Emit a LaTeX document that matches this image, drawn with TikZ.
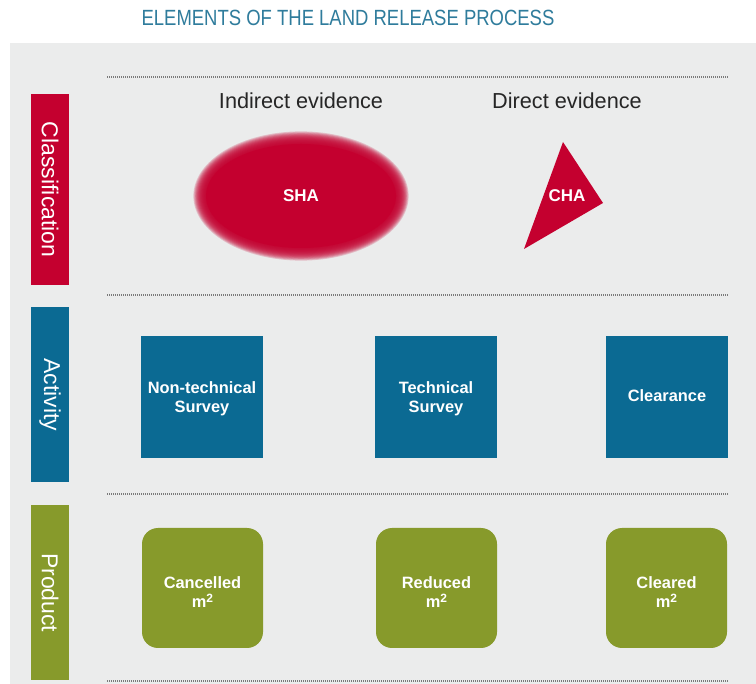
\documentclass[tikz,border=0pt]{standalone}
\usepackage{fontspec}
\setmainfont{Liberation Sans}
\newfontfamily\condfont[FakeStretch=0.84]{Liberation Sans}
\usetikzlibrary{shapes.geometric}
\definecolor{panel}{HTML}{EBECEC}
\definecolor{cred}{HTML}{C4002F}
\definecolor{cblue}{HTML}{0B6A93}
\definecolor{cgreen}{HTML}{879A2B}
\definecolor{ctitle}{HTML}{2F7C9C}
\definecolor{dotc}{HTML}{7A7A7A}
\newcommand{\msq}{m{\fontsize{12}{12}\selectfont\raisebox{0.4em}{2}}}
\tikzset{
  sidebar/.style={minimum width=38pt, inner sep=0pt, text=white, font=\fontsize{23}{23}\selectfont, anchor=north},
  actbox/.style={fill=cblue, minimum width=122pt, minimum height=122pt, inner sep=0pt},
  prodbox/.style={fill=cgreen, rounded corners=16pt, minimum width=121pt, minimum height=120pt, inner sep=0pt},
  boxtext/.style={text=white, align=center, font=\bfseries\fontsize{16.4}{18.5}\selectfont},
  sep/.style={dotc, line width=2pt, dash pattern=on 0.8pt off 1.2pt},
  evid/.style={font=\fontsize{21.7}{22}\selectfont, text=black!85},
  redlbl/.style={text=white, font=\bfseries\fontsize{17}{17}\selectfont}
}
\begin{document}
\begin{tikzpicture}[x=1pt,y=-1pt]
\useasboundingbox (0,0) rectangle (756,684);
\fill[white] (0,0) rectangle (756,684);
\fill[panel] (10,43) rectangle (756,684);
\node[font=\condfont\fontsize{22}{22}\selectfont, text=ctitle] (title) at (348,18) {ELEMENTS OF THE LAND RELEASE PROCESS};
% separators
\foreach \yy in {77,295,494,681} \draw[sep] (107,\yy) -- (728,\yy);
% side bars
\node[sidebar, fill=cred, minimum height=191pt] (cls) at (50,94) {\rotatebox{-90}{Classification}};
\node[sidebar, fill=cblue, minimum height=175pt] (act) at (50,307) {\rotatebox{-90}{Activity}};
\node[sidebar, fill=cgreen, minimum height=175pt] (prd) at (50,505) {\rotatebox{-90}{Product}};
% evidence
\node[evid] (ind) at (301,101) {Indirect evidence};
\node[evid] (dir) at (567,101) {Direct evidence};
% SHA blurred ellipse
\foreach \i in {0,...,14}
  \fill[cred, opacity=0.2] (301,196) ellipse ({95+(14-\i)*0.9} and {52+(14-\i)*0.9});
\fill[cred] (301,196) ellipse (95 and 52);
\node[redlbl] (sha) at (301,196) {SHA};
% CHA triangle
\fill[cred] (563,142) -- (603,203) -- (524,249) -- cycle;
\node[redlbl] (cha) at (567,196) {CHA};
% activity boxes
\node[actbox] (nts) at (202,397) {};
\node[actbox] (ts) at (436,397) {};
\node[actbox] (clr) at (667,397) {};
\node[boxtext] (ntsT) at (202,399) {Non-technical\\Survey};
\node[boxtext] (tsT) at (436,399) {Technical\\Survey};
\node[boxtext] (clrT) at (667,396) {Clearance};
% product boxes
\node[prodbox] (can) at (202.5,588) {};
\node[prodbox] (red) at (436.5,588) {};
\node[prodbox] (cle) at (666.5,588) {};
\node[boxtext] (canT) at (202.5,592) {Cancelled\\[1pt]\msq};
\node[boxtext] (redT) at (436.5,592) {Reduced\\[1pt]\msq};
\node[boxtext] (cleT) at (666.5,592) {Cleared\\[1pt]\msq};
\end{tikzpicture}
\end{document}
